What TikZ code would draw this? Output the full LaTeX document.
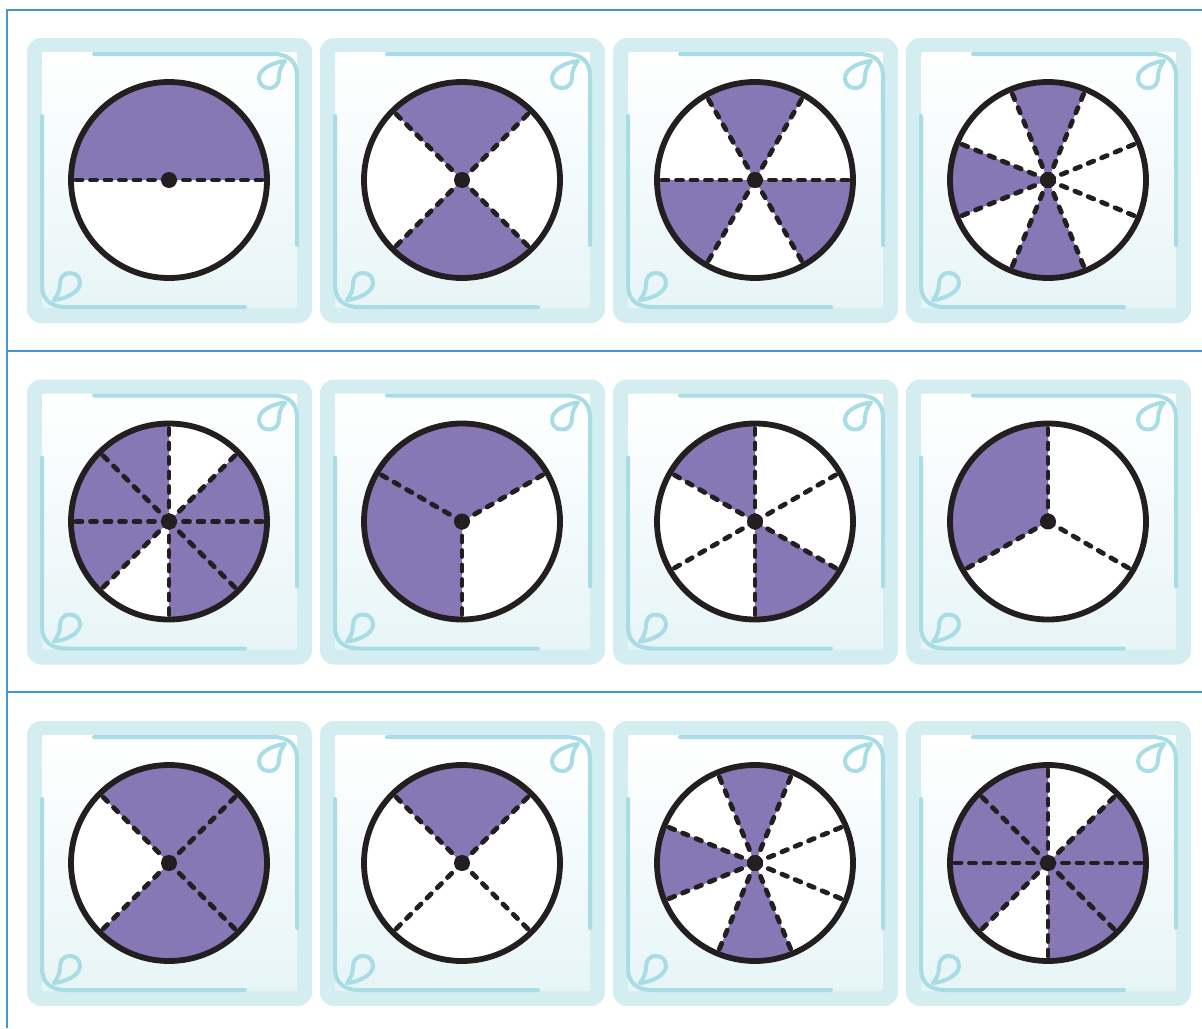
\documentclass[tikz,border=0pt]{standalone}
\definecolor{gridblue}{HTML}{4596D4}
\definecolor{framecol}{HTML}{D3EDF1}
\definecolor{decocol}{HTML}{A9DDE5}
\definecolor{piepurple}{HTML}{8677B5}
\definecolor{inkcol}{HTML}{231F20}
\definecolor{panelbot}{HTML}{E7F5F7}
\tikzset{
  gridline/.style={draw=gridblue, line width=2pt},
  decoline/.style={draw=decocol, line width=4pt, line cap=round, line join=round},
  dashline/.style={draw=inkcol, line width=4.8pt, line cap=round, dash pattern=on 6pt off 8.5pt},
  rimline/.style={draw=inkcol, line width=5.8pt},
}
\newcommand\fraccard[4]{%
  \pgfmathsetmacro\cardx{27+293*#1}%
  \pgfmathsetmacro\cardy{38+341.5*#2}%
  \fill[framecol, rounded corners=14pt] (\cardx,-\cardy) rectangle ++(285,-285);
  \shade[top color=white, bottom color=panelbot, rounded corners=2pt]
     ({\cardx+15},{-\cardy-14}) rectangle ({\cardx+270},{-\cardy-270});
  \begin{scope}[shift={(\cardx,-\cardy)}, yscale=-1]
    \foreach \rot in {0,180}{
      \begin{scope}[rotate around={\rot:(142.5,142.5)}]
        \draw[decoline] (67,16) -- (246,16) .. controls (262,16) and (270,24) .. (270,38) -- (270,207);
        \draw[decoline] (258,23) .. controls (248,24) and (232,30) .. (232,40)
           .. controls (232,46) and (236,50) .. (242,50)
           .. controls (249,50) and (252,45) .. (252,39)
           .. controls (252,32) and (255,27) .. (258,23);
      \end{scope}
    }
  \end{scope}
  \coordinate (c) at ({\cardx+142},{-\cardy-142});
  \fill[white] (c) circle[radius=98];
  \foreach \a/\b in {#3}{
    \fill[piepurple] (c) -- ++(\a:98) arc[start angle=\a, end angle=\b, radius=98] -- cycle;
  }
  \foreach \a in {#4}{
    \draw[dashline] (c) -- ++(\a:95);
  }
  \draw[rimline] (c) circle[radius=98];
  \fill[inkcol] (c) circle[radius=8];
}
\begin{document}
\begin{tikzpicture}[x=1pt,y=1pt]
\useasboundingbox (0,0) rectangle (1202,-1028);
\fill[white] (0,0) rectangle (1202,-1028);
% grid lines
\coordinate (tl) at (7,-10);
\coordinate (tr) at (1202,-10);
\coordinate (bl) at (7,-1028);
\coordinate (s1l) at (7,-350.5);
\coordinate (s1r) at (1202,-350.5);
\coordinate (s2l) at (7,-691.5);
\coordinate (s2r) at (1202,-691.5);
\draw[gridline] (tr) -- (tl) -- (bl);
\draw[gridline] (s1l) -- (s1r);
\draw[gridline] (s2l) -- (s2r);
% row 1
\fraccard{0}{0}{0/180}{0,180}
\fraccard{1}{0}{45/135,225/315}{45,135,225,315}
\fraccard{2}{0}{60/120,180/240,300/360}{0,60,120,180,240,300}
\fraccard{3}{0}{67.5/112.5,157.5/202.5,247.5/292.5}{22.5,67.5,112.5,157.5,202.5,247.5,292.5,337.5}
% row 2
\fraccard{0}{1}{0/45,90/225,270/360}{0,45,90,135,180,225,270,315}
\fraccard{1}{1}{30/270}{30,150,270}
\fraccard{2}{1}{90/150,270/330}{30,90,150,210,270,330}
\fraccard{3}{1}{90/210}{90,210,330}
% row 3
\fraccard{0}{2}{-135/135}{45,135,225,315}
\fraccard{1}{2}{45/135}{45,135,225,315}
\fraccard{2}{2}{67.5/112.5,157.5/202.5,247.5/292.5}{22.5,67.5,112.5,157.5,202.5,247.5,292.5,337.5}
\fraccard{3}{2}{0/45,90/225,270/360}{0,45,90,135,180,225,270,315}
\end{tikzpicture}
\end{document}
